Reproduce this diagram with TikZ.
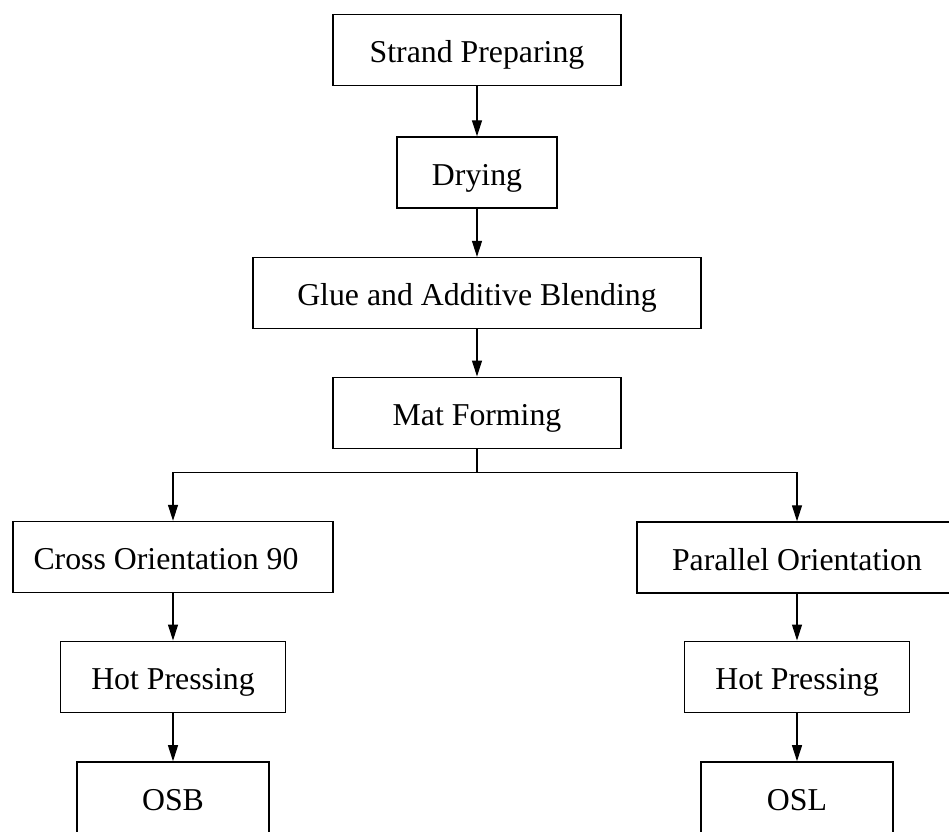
\documentclass[tikz,border=0pt]{standalone}
\usepackage{fontspec}
\setmainfont{Liberation Serif}
\usetikzlibrary{arrows.meta}

\begin{document}
\begin{tikzpicture}[x=1pt,y=-1pt]
		\tikzstyle{every node}+=[inner sep=0pt]
		\tikzstyle{stage}=[draw, line width=1.4pt, minimum height=71pt, text height=25.2pt, text depth=0pt, font=\fontsize{31.8}{36}\selectfont]
		\tikzstyle{flow}=[line width=1.1pt, -{Triangle[length=16pt,width=10pt]}]
		\useasboundingbox (0,0) rectangle (949,831);
		\node [stage, minimum width=288pt] (strand) at (477,49.8) {Strand Preparing};
		\node [stage, minimum width=160pt] (dry) at (477,172.5) {Drying};
		\node [stage, minimum width=448pt] (glue) at (477,293.1) {Glue and Additive Blending};
		\node [stage, minimum width=288pt] (mat) at (477,412.7) {Mat Forming};
		\coordinate (split) at (477,472.7);
		\node [stage, minimum width=320pt] (cross) at (173,557) {Cross Orientation 90\hspace*{14pt}};
		\node [stage, minimum width=320pt] (para) at (797,557.5) {Parallel Orientation};
		\node [stage, minimum width=225pt] (hotl) at (173,676.7) {Hot Pressing};
		\node [stage, minimum width=225pt] (hotr) at (797,676.7) {Hot Pressing};
		\node [stage, minimum width=192pt] (osb) at (173,797.4) {OSB};
		\node [stage, minimum width=192pt] (osl) at (797,797.4) {OSL};
		\draw [flow] (strand) -- (dry);
		\draw [flow] (dry) -- (glue);
		\draw [flow] (glue) -- (mat);
		\draw [flow] (mat.south) -- (split) -| (cross.north);
		\draw [flow] (split) -| (para.north);
		\draw [flow] (cross) -- (hotl);
		\draw [flow] (para) -- (hotr);
		\draw [flow] (hotl) -- (osb);
		\draw [flow] (hotr) -- (osl);
	\end{tikzpicture}
\end{document}
